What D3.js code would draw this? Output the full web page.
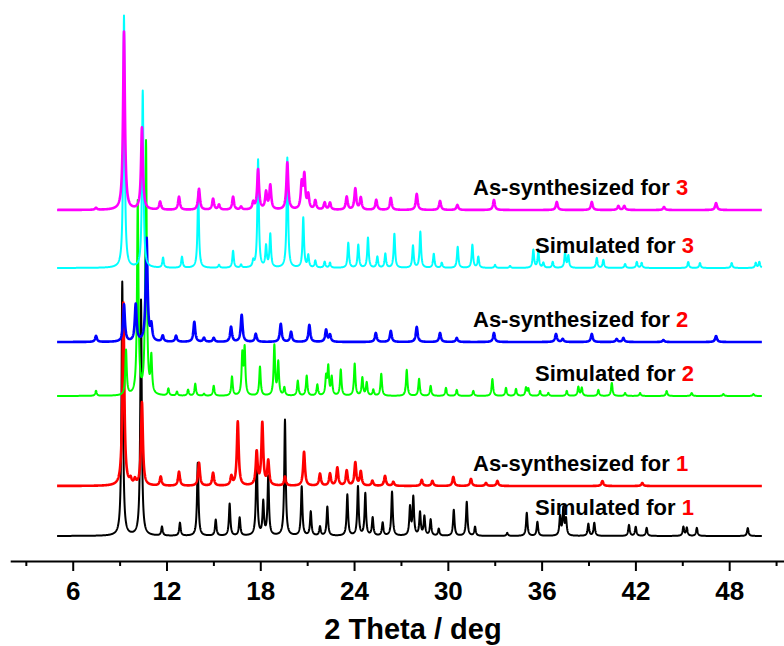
<!DOCTYPE html>
<html>
<head>
<meta charset="utf-8">
<script src="https://cdn.jsdelivr.net/npm/d3@7"></script>
<style>
    body { margin: 0; background: #ffffff; }
    .trace-label { font-family: "Liberation Sans", Arial, sans-serif; font-weight: bold; font-size: 22px; }
    .axis text { font-family: "Liberation Sans", Arial, sans-serif; font-weight: bold; font-size: 26px; fill: #000; }
    .axis-title { font-family: "Liberation Sans", Arial, sans-serif; font-weight: bold; font-size: 29px; }
</style>
</head>
<body>
<div id="chart"></div>
<script>
// peak lists: [2theta (deg), intensity (a.u.)]
const sim1Peaks = [
    [9.17, 254], [10.37, 236], [11.71, 9], [12.86, 13], [14.0, 73], [15.15, 16], [16.04, 32],
    [16.68, 18], [17.77, 84], [18.19, 33], [18.51, 59], [19.58, 116], [20.65, 49], [21.23, 24],
    [21.82, 9], [22.29, 29], [23.57, 41], [24.25, 49], [24.72, 42], [25.19, 18], [25.83, 13],
    [26.43, 44], [27.58, 28], [27.79, 38], [28.22, 23], [28.5, 19], [28.9, 16], [29.42, 7],
    [30.38, 26], [31.21, 34], [31.74, 9], [33.8, 3], [35.05, 23], [35.73, 14], [37.18, 19],
    [37.39, 27], [37.56, 16], [38.99, 12], [39.37, 13], [41.59, 11], [42.02, 9], [42.72, 8],
    [45.07, 9], [45.29, 8], [45.93, 8], [49.19, 8]
];
const syn1Peaks = [
    [9.24, 183], [9.7, 5], [9.98, 5], [10.43, 83], [11.63, 9], [12.8, 14], [14.08, 23],
    [14.98, 13], [16.15, 9], [16.56, 64], [17.77, 33], [18.13, 62], [18.51, 24], [19.58, 9],
    [20.8, 34], [21.82, 12], [22.46, 12], [22.93, 18], [23.53, 15], [24.08, 23], [24.43, 14],
    [25.17, 5], [25.98, 10], [26.51, 4], [28.33, 6], [29.01, 5], [30.35, 9], [31.48, 7],
    [32.44, 3], [33.17, 5], [39.89, 5], [42.44, 3]
];
const sim2Peaks = [
    [7.49, 5], [9.41, 45], [10.16, 193], [10.69, 253], [11.03, 36], [12.12, 7], [12.67, 4],
    [13.38, 6], [13.84, 12], [14.4, 2], [15.02, 10], [16.19, 19], [16.85, 40], [17.0, 46],
    [17.98, 29], [18.9, 50], [19.15, 33], [19.54, 8], [20.4, 15], [20.97, 20], [21.65, 11],
    [22.21, 18], [22.35, 28], [22.57, 18], [23.15, 26], [24.04, 32], [24.53, 18], [24.81, 13],
    [25.23, 6], [25.74, 22], [27.37, 26], [28.16, 17], [28.9, 10], [29.88, 8], [30.57, 6],
    [31.63, 5], [32.85, 17], [33.72, 8], [34.36, 7], [35.0, 8], [35.15, 7], [35.9, 5],
    [36.43, 3], [37.61, 5], [38.35, 9], [38.57, 8], [39.63, 6], [40.49, 13], [41.34, 3],
    [42.3, 3], [44.0, 5], [45.6, 3], [47.63, 2], [49.55, 2]
];
const syn2Peaks = [
    [7.49, 6], [9.28, 37], [10.03, 37], [10.73, 103], [11.03, 15], [11.76, 6], [12.61, 6],
    [13.78, 20], [14.4, 4], [15.02, 4], [16.13, 15], [16.81, 27], [17.71, 8], [19.31, 18],
    [19.97, 10], [21.14, 17], [22.21, 12], [22.46, 7], [25.39, 9], [26.35, 11], [28.01, 15],
    [29.5, 9], [30.57, 4], [32.95, 9], [36.92, 8], [37.35, 3], [39.21, 8], [40.8, 3],
    [41.23, 4], [43.79, 2], [47.16, 6]
];
const sim3Peaks = [
    [9.28, 252], [10.48, 177], [11.78, 10], [12.99, 11], [14.03, 76], [15.36, 3], [16.26, 17],
    [16.77, 3], [17.55, 6], [17.86, 108], [18.37, 21], [18.64, 33], [19.73, 110], [20.75, 50],
    [21.07, 12], [21.52, 7], [22.12, 6], [22.46, 5], [23.63, 25], [24.27, 23], [24.89, 30],
    [25.49, 11], [26.0, 14], [26.58, 34], [27.77, 22], [28.24, 36], [29.1, 14], [29.61, 5],
    [30.63, 21], [31.57, 23], [31.95, 11], [33.02, 3], [33.98, 2], [35.47, 18], [35.79, 16],
    [36.11, 5], [36.71, 6], [37.5, 15], [37.71, 12], [39.53, 10], [39.95, 8], [41.34, 4],
    [42.09, 6], [42.4, 5], [45.38, 6], [46.13, 5], [48.16, 5], [49.7, 5], [49.93, 6]
];
const syn3Peaks = [
    [7.49, 2], [9.28, 178], [10.43, 82], [11.59, 8], [12.8, 13], [14.08, 21], [14.98, 11],
    [15.36, 5], [16.26, 13], [16.77, 3], [17.55, 7], [17.86, 40], [18.37, 17], [18.64, 24],
    [19.73, 47], [20.65, 25], [20.82, 33], [21.07, 14], [21.52, 9], [22.12, 7], [22.46, 7],
    [23.53, 13], [24.08, 21], [24.43, 12], [25.42, 10], [26.35, 12], [28.01, 16], [29.5, 9],
    [30.61, 5], [32.95, 10], [36.97, 8], [39.21, 8], [40.91, 4], [41.29, 4], [43.83, 3],
    [47.16, 7]
];

// bottom to top, in drawing order
const seriesPeaks = [sim1Peaks, syn1Peaks, sim2Peaks, syn2Peaks, sim3Peaks, syn3Peaks];
const seriesNames = ["Simulated for ", "As-synthesized for ", "Simulated for ", "As-synthesized for ", "Simulated for ", "As-synthesized for "];
const seriesNumbers = ["1", "1", "2", "2", "3", "3"];
const seriesOffsets = [0, 50, 140, 194, 268, 326];
const scanRange = [5.0, 50.1];

const xTicks = [6, 12, 18, 24, 30, 36, 42, 48];
const xMinorTicks = [3, 9, 15, 21, 27, 33, 39, 45, 51];

const TRACECOLORS = ["#000000", "#ff0000", "#00ff00", "#0000ff", "#00ffff", "#ff00ff"];

class XrdChart {

    constructor(parentElement) {
        this.parentElement = parentElement;
        this.initVis();
    }

    initVis() {
        let vis = this;
        vis.width = 784;
        vis.height = 646;
        vis.axisY = 561;

        vis.svg = d3.select('#' + vis.parentElement).append("svg")
            .attr("width", vis.width)
            .attr("height", vis.height)

        vis.x = d3.scaleLinear()
            .domain([2, 52])
            .range([10.2, 791.7])

        vis.y = d3.scaleLinear()
            .domain([0, 520])
            .range([536, 16])

        // minor ticks first, then the labelled axis on top
        vis.svg.append("g")
            .attr("class", "axis minor")
            .attr("transform", "translate(0," + vis.axisY + ")")
            .call(d3.axisBottom(vis.x).tickValues(xMinorTicks).tickSize(5).tickFormat(""))
            .call(g => g.select(".domain").remove())

        vis.xAxis = vis.svg.append("g")
            .attr("class", "axis")
            .attr("transform", "translate(0," + vis.axisY + ")")
            .call(d3.axisBottom(vis.x).tickValues(xTicks).tickSize(10).tickSizeOuter(0).tickPadding(11))

        vis.svg.selectAll(".axis path, .axis line")
            .attr("stroke", "#000")
            .attr("stroke-width", 2)

        vis.svg.append("text")
            .attr("class", "axis-title")
            .attr("x", 413)
            .attr("y", 639)
            .attr("text-anchor", "middle")
            .text("2 Theta / deg")

        vis.wrangleData()
    }

    wrangleData() {
        let vis = this;
        let grid = d3.range(scanRange[0], scanRange[1], 0.01);

        // each pattern = sum of lorentzian peaks on a flat background
        vis.displayData = seriesPeaks.map((peaks, i) => {
            let hw = (i % 2 === 0) ? 0.055 : 0.07;
            return grid.map((t) => {
                let v = 0;
                peaks.forEach((p) => {
                    let d = t - p[0];
                    v += p[1] * hw * hw / (d * d + hw * hw);
                });
                return [t, v + seriesOffsets[i]];
            });
        });

        vis.updateVis()
    }

    updateVis() {
        let vis = this;

        let line = d3.line()
            .x((d) => vis.x(d[0]))
            .y((d) => vis.y(d[1]))

        vis.svg.selectAll(".trace")
            .data(vis.displayData)
            .enter()
            .append("path")
            .attr("class", "trace")
            .attr("d", line)
            .attr("fill", "none")
            .attr("stroke", (d, i) => TRACECOLORS[i])
            .attr("stroke-width", (d, i) => (i % 2 === 0) ? 2 : 2.6)
            .attr("stroke-linejoin", "round")

        let labels = vis.svg.selectAll(".trace-label")
            .data(seriesNames)
            .enter()
            .append("text")
            .attr("class", "trace-label")
            .attr("x", (d, i) => (i % 2 === 0) ? 535 : 473)
            .attr("y", (d, i) => vis.y(seriesOffsets[i]) - (i === 0 ? 21 : 15))

        labels.append("tspan")
            .attr("fill", "#000")
            .text((d) => d)

        labels.append("tspan")
            .attr("fill", "#ff0000")
            .text((d, i) => seriesNumbers[i])
    }
}

new XrdChart("chart");
</script>
</body>
</html>
